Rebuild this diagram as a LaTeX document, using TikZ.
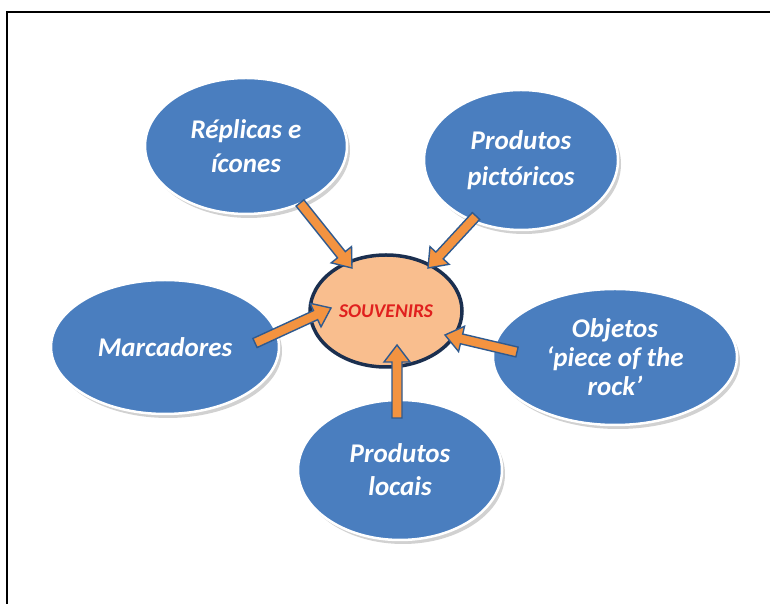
\documentclass[tikz,border=0pt]{standalone}
\usepackage{fontspec}
\setmainfont{Carlito}
\usetikzlibrary{shapes.geometric,calc,shadows}

\definecolor{bubble}{HTML}{4A7EBF}
\definecolor{core}{HTML}{F9BE8E}
\definecolor{coreline}{HTML}{1B2F4F}
\definecolor{arrowfill}{HTML}{F39340}
\definecolor{arrowline}{HTML}{2F5A8F}
\definecolor{wordred}{HTML}{E0201E}

\tikzset{
  topic/.style={ellipse, inner sep=0pt, fill=bubble, draw=white, line width=2.5pt,
    text=white, align=center,
    font=\fontsize{27}{34}\selectfont\bfseries\itshape,
    drop shadow={shadow xshift=3pt, shadow yshift=-4pt, opacity=0.18, fill=black}},
  hub/.style={ellipse, inner sep=0pt, fill=core, draw=coreline, line width=3.5pt,
    text=wordred, font=\fontsize{19.5}{22}\selectfont\bfseries\itshape},
  feed/.style={fill=arrowfill, draw=arrowline, line width=1.4pt, line join=miter},
  frameline/.style={line width=1.2pt, draw=black}
}

% block arrow from #1 (tail) to #2 (tip)
\newcommand\feedarrow[2]{%
  \coordinate (fa-neck) at ($(#2)!17pt!(#1)$);
  \draw[feed] ($(#1)!5pt!90:(#2)$) -- ($(fa-neck)!5pt!90:(#2)$)
    -- ($(fa-neck)!13pt!90:(#2)$) -- (#2)
    -- ($(fa-neck)!13pt!-90:(#2)$) -- ($(fa-neck)!5pt!-90:(#2)$)
    -- ($(#1)!5pt!-90:(#2)$) -- cycle;
}

\begin{document}
\begin{tikzpicture}[x=1pt,y=1pt]
  \useasboundingbox (0,0) rectangle (770,604);
  \fill[white] (0,0) rectangle (770,604);
  \draw[frameline] (7,0) -- (7,592) -- (770,592);

  \node[hub, minimum width=152pt, minimum height=112pt] (souv) at (386,293) {SOUVENIRS};

  \node[topic, minimum width=202pt, minimum height=136pt] (rep) at (246,458) {Réplicas e\\ícones};
  \node[topic, minimum width=194pt, minimum height=140pt, font=\fontsize{27}{36}\selectfont\bfseries\itshape] (pic) at (521,444) {Produtos\\pictóricos};
  \node[topic, minimum width=228pt, minimum height=134pt] (mar) at (165,257) {Marcadores};
  \node[topic, minimum width=244pt, minimum height=136pt, font=\fontsize{27}{29}\selectfont\bfseries\itshape] (obj) at (615,247) {Objetos\\‘piece of the\\rock’};
  \node[topic, minimum width=204pt, minimum height=140pt, font=\fontsize{27}{33}\selectfont\bfseries\itshape] (loc) at (400,134) {Produtos\\locais};

  % arrow ends
  \coordinate (rep-out) at (300,401);
  \coordinate (rep-in)  at (352,336);
  \coordinate (pic-out) at (476,388);
  \coordinate (pic-in)  at (428,336);
  \coordinate (mar-out) at (255,261);
  \coordinate (mar-in)  at (331,296);
  \coordinate (obj-out) at (517,252);
  \coordinate (obj-in)  at (445,269);
  \coordinate (loc-out) at (397,186);
  \coordinate (loc-in)  at (397,259);

  \feedarrow{rep-out}{rep-in}
  \feedarrow{pic-out}{pic-in}
  \feedarrow{mar-out}{mar-in}
  \feedarrow{obj-out}{obj-in}
  \feedarrow{loc-out}{loc-in}
\end{tikzpicture}
\end{document}
